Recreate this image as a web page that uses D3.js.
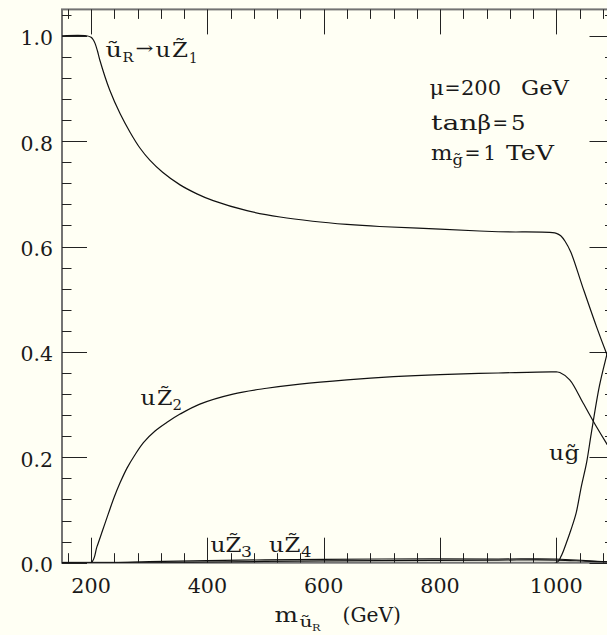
<!DOCTYPE html>
<html>
<head>
<meta charset="utf-8">
<script src="https://cdn.jsdelivr.net/npm/d3@7"></script>
<style>
  html, body { margin: 0; padding: 0; background: #fffff4; }
  svg { display: block; }
  text { font-family: "DejaVu Serif", serif; fill: #1a1a1a; }
</style>
</head>
<body>
<svg id="chart" width="607" height="635"></svg>
<script>
// Branching fractions of the right squark vs its mass
const massZ1 = [150, 192, 200, 204, 207, 211, 215, 232, 250, 267, 284, 301, 323, 353, 382, 410, 468, 525, 581, 640, 696, 800, 900, 1000, 1008, 1015, 1025, 1045, 1069, 1086, 1100];
const brZ1   = [1.0, 1.0, 0.997, 0.992, 0.985, 0.971, 0.954, 0.897, 0.852, 0.817, 0.787, 0.764, 0.741, 0.717, 0.700, 0.687, 0.668, 0.656, 0.648, 0.642, 0.638, 0.633, 0.628, 0.625, 0.620, 0.610, 0.589, 0.524, 0.448, 0.398, 0.360];

const massZ2 = [150, 200, 210, 220, 230, 240, 250, 262, 275, 290, 310, 330, 353, 387, 444, 502, 559, 640, 720, 800, 900, 1000, 1006, 1023, 1046, 1069, 1086, 1100];
const brZ2   = [0, 0, 0.030, 0.062, 0.094, 0.125, 0.152, 0.180, 0.204, 0.228, 0.250, 0.266, 0.282, 0.301, 0.320, 0.331, 0.339, 0.347, 0.353, 0.357, 0.360, 0.362, 0.361, 0.347, 0.303, 0.258, 0.227, 0.203];

const massGl = [150, 1000, 1008, 1017, 1025, 1034, 1043, 1052, 1060, 1074, 1086, 1100];
const brGl   = [0, 0, 0.012, 0.037, 0.062, 0.094, 0.145, 0.190, 0.245, 0.335, 0.391, 0.450];

const massZ3 = [150, 240, 300, 400, 550, 700, 900, 1000, 1050, 1100];
const brZ3   = [0, 0, 0.002, 0.004, 0.006, 0.007, 0.007, 0.007, 0.004, 0.001];

const massZ4 = [150, 330, 400, 550, 700, 900, 1000, 1050, 1100];
const brZ4   = [0, 0, 0.001, 0.003, 0.004, 0.005, 0.005, 0.003, 0.001];

// Axis ticks
const xMajor = [200, 400, 600, 800, 1000];
const xMinor = d3.range(160, 1100, 40);
const yMajor = [0, 0.2, 0.4, 0.6, 0.8, 1.0];
const yMinor = d3.range(0, 1.05, 0.04);

const svg = d3.select("#chart");
const x = d3.scaleLinear().domain([150, 1100]).range([62, 614.5]);
const y = d3.scaleLinear().domain([0, 1.05]).range([562.7, 9.4]);

const x0 = x.range()[0], x1 = x.range()[1];
const y0 = y.range()[0], y1 = y.range()[1];

svg.append("defs").append("clipPath").attr("id", "plot")
  .append("rect").attr("x", x0).attr("y", y1).attr("width", x1 - x0).attr("height", y0 - y1);

// Frame
svg.append("rect")
  .attr("x", x0).attr("y", y1).attr("width", x1 - x0).attr("height", y0 - y1)
  .attr("fill", "none").attr("stroke", "#737373").attr("stroke-width", 2);

// Inward ticks on all four sides
const tickG = svg.append("g").attr("stroke", "#222").attr("stroke-width", 1);
const majLen = 25, minLen = 9.5;
function xTicks(vals, len) {
  vals.forEach(v => {
    const px = Math.round(x(v)) + 0.5;
    tickG.append("line").attr("x1", px).attr("x2", px).attr("y1", y0).attr("y2", y0 - len);
    tickG.append("line").attr("x1", px).attr("x2", px).attr("y1", y1).attr("y2", y1 + len);
  });
}
function yTicks(vals, len) {
  vals.forEach(v => {
    const py = Math.round(y(v)) + 0.5;
    tickG.append("line").attr("y1", py).attr("y2", py).attr("x1", x0).attr("x2", x0 + len);
    tickG.append("line").attr("y1", py).attr("y2", py).attr("x1", x1).attr("x2", x1 - len);
  });
}
xTicks(xMinor.filter(v => !xMajor.includes(v)), minLen);
xTicks(xMajor, majLen);
yTicks(yMinor.filter(v => !yMajor.some(m => Math.abs(m - v) < 1e-6)), minLen);
yTicks(yMajor, majLen);

// Tick labels (slightly widened serif figures)
svg.append("g").selectAll("text").data(xMajor).join("text")
  .attr("x", d => x(d)).attr("y", 593).attr("text-anchor", "middle")
  .attr("font-size", 20)
  .attr("textLength", d => String(d).length === 4 ? 53 : 39.5)
  .attr("lengthAdjust", "spacingAndGlyphs")
  .text(d => d);
svg.append("g").selectAll("text").data(yMajor).join("text")
  .attr("x", 53).attr("y", d => y(d) + 9.5).attr("text-anchor", "end")
  .attr("font-size", 20)
  .attr("textLength", 32.5).attr("lengthAdjust", "spacingAndGlyphs")
  .text(d => d.toFixed(1));

// Curves
const line = d3.line().x(d => x(d[0])).y(d => y(d[1])).curve(d3.curveCatmullRom.alpha(0.5));
const series = [[massZ3, brZ3], [massZ4, brZ4], [massGl, brGl], [massZ2, brZ2], [massZ1, brZ1]];
const curves = svg.append("g").attr("clip-path", "url(#plot)");
series.forEach(([m, b]) => {
  curves.append("path").datum(d3.zip(m, b)).attr("d", line)
    .attr("fill", "none").attr("stroke", "#111").attr("stroke-width", 1.2);
});

// Text helper: each piece placed and widened explicitly
function label(parts) {
  const t = svg.append("text");
  parts.forEach(p => {
    const s = t.append("tspan").attr("x", p.x).attr("y", p.y)
      .attr("font-size", p.s || 20).text(p.t);
    if (p.w) s.attr("textLength", p.w).attr("lengthAdjust", "spacingAndGlyphs");
  });
  return t;
}

// Channel labels
label([
  {t: "u\u0303", x: 105.5, y: 56.5, w: 16.5},
  {t: "R", x: 122.5, y: 62, s: 13, w: 11},
  {t: "\u2192", x: 135.5, y: 54, s: 17, w: 18},
  {t: "u", x: 155.5, y: 56.5, w: 15},
  {t: "Z\u0303", x: 172, y: 56.5, w: 16},
  {t: "1", x: 189, y: 62.5, s: 14, w: 8.5}
]);
label([
  {t: "u", x: 140.5, y: 405, w: 15},
  {t: "Z\u0303", x: 157, y: 405, w: 15.5},
  {t: "2", x: 172.5, y: 410, s: 14, w: 9.5}
]);
label([
  {t: "u", x: 210.5, y: 551.5, w: 15},
  {t: "Z\u0303", x: 225.5, y: 551.5, w: 16},
  {t: "3", x: 241, y: 556.5, s: 14, w: 11}
]);
label([
  {t: "u", x: 269, y: 551.5, w: 15},
  {t: "Z\u0303", x: 284.5, y: 551.5, w: 16},
  {t: "4", x: 301, y: 556.5, s: 14, w: 10.5}
]);
label([
  {t: "u", x: 549, y: 460, w: 15},
  {t: "g\u0303", x: 564.5, y: 460, w: 15}
]);

// Parameter block
label([
  {t: "\u03bc", x: 429.5, y: 95, w: 14.5},
  {t: "=", x: 444.5, y: 95, w: 16},
  {t: "200", x: 461, y: 95, w: 40},
  {t: "GeV", x: 521, y: 95, w: 48}
]);
label([
  {t: "tan", x: 431, y: 130, w: 46.5},
  {t: "\u03b2", x: 477.5, y: 130, w: 13.5},
  {t: "=", x: 492.5, y: 130, w: 15.5},
  {t: "5", x: 511, y: 130, w: 14.5}
]);
label([
  {t: "m", x: 431, y: 160, w: 21.5},
  {t: "g\u0303", x: 452.5, y: 165, s: 14, w: 10.5},
  {t: "=", x: 464.5, y: 160, w: 16},
  {t: "1", x: 483.5, y: 160, w: 12.5},
  {t: "TeV", x: 506, y: 160, w: 48}
]);

// X axis title
label([
  {t: "m", x: 274.5, y: 622, w: 23.5},
  {t: "u\u0303", x: 299.5, y: 627, s: 14, w: 13},
  {t: "R", x: 312, y: 631, s: 9, w: 8.5},
  {t: "(GeV)", x: 342.5, y: 622, w: 58.5}
]);
</script>
</body>
</html>
